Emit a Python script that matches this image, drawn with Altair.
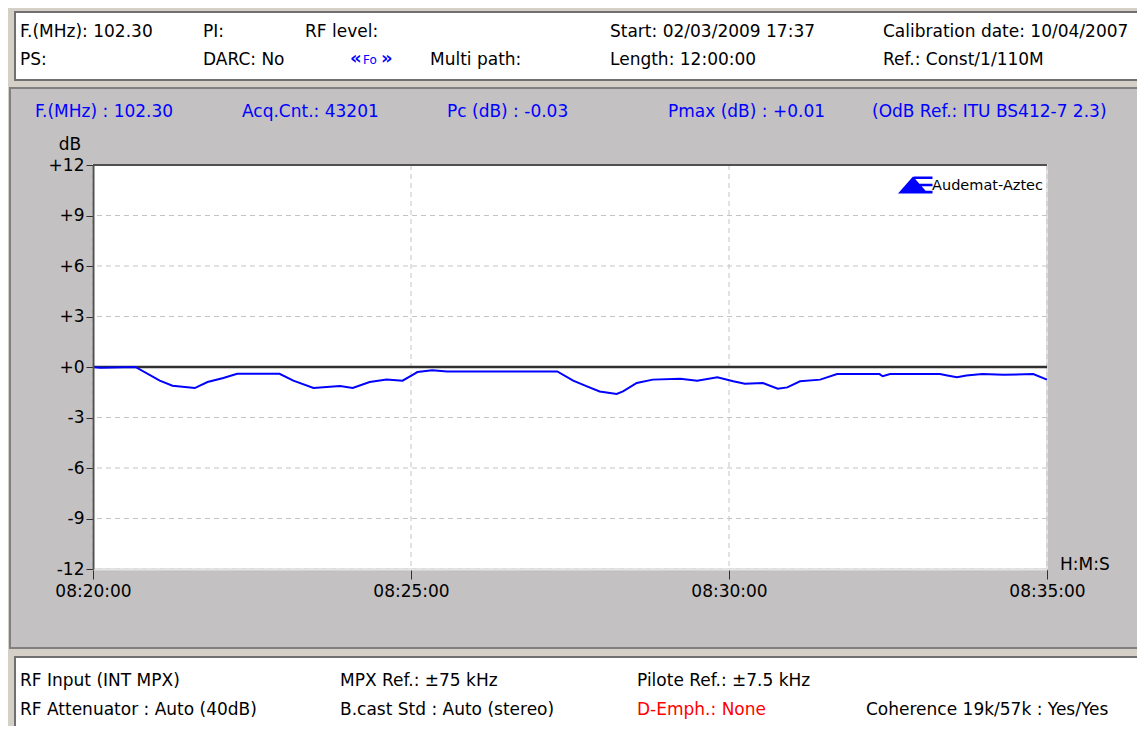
import altair as alt
import pandas as pd

# ---- data ----
times = ["08:20:00", "08:20:07", "08:20:40", "08:21:03", "08:21:15", "08:21:36", "08:21:48",
         "08:22:03", "08:22:16", "08:22:56", "08:23:09", "08:23:28", "08:23:53", "08:24:05",
         "08:24:21", "08:24:37", "08:24:52", "08:25:02", "08:25:06", "08:25:20", "08:25:34",
         "08:27:18", "08:27:33", "08:27:46", "08:27:58", "08:28:14", "08:28:20", "08:28:33",
         "08:28:48", "08:29:14", "08:29:30", "08:29:49", "08:30:04", "08:30:15", "08:30:32",
         "08:30:46", "08:30:55", "08:31:07", "08:31:26", "08:31:42", "08:32:22", "08:32:25",
         "08:32:32", "08:33:19", "08:33:26", "08:33:35", "08:33:44", "08:33:59", "08:34:19",
         "08:34:47", "08:35:00"]
db_values = [0.0, -0.05, 0.0, -0.81, -1.11, -1.25, -0.89,
             -0.65, -0.40, -0.40, -0.81, -1.25, -1.13, -1.25,
             -0.89, -0.75, -0.81, -0.45, -0.30, -0.20, -0.26,
             -0.26, -0.81, -1.15, -1.45, -1.60, -1.45, -0.95,
             -0.75, -0.70, -0.81, -0.61, -0.85, -0.99, -0.95,
             -1.29, -1.21, -0.85, -0.75, -0.42, -0.42, -0.55,
             -0.42, -0.42, -0.50, -0.61, -0.50, -0.42, -0.46,
             -0.42, -0.75]
date_prefix = "2009-03-02T"
y_ticks = [-12, -9, -6, -3, 0, 3, 6, 9, 12]
x_ticks = ["08:20:00", "08:25:00", "08:30:00", "08:35:00"]

header_row1 = ["F.(MHz): 102.30", "PI:", "RF level:", "Start: 02/03/2009 17:37", "Calibration date: 10/04/2007"]
header_row2 = ["PS:", "DARC: No", "Multi path:", "Length: 12:00:00", "Ref.: Const/1/110M"]
info_row = ["F.(MHz) : 102.30", "Acq.Cnt.: 43201", "Pc (dB) : -0.03", "Pmax (dB) : +0.01", "(OdB Ref.: ITU BS412-7 2.3)"]
footer_row1 = ["RF Input (INT MPX)", "MPX Ref.: ±75 kHz", "Pilote Ref.: ±7.5 kHz"]
footer_row2 = ["RF Attenuator : Auto (40dB)", "B.cast Std : Auto (stereo)", "D-Emph.: None", "Coherence 19k/57k : Yes/Yes"]

df = pd.DataFrame({"time": [date_prefix + t for t in times], "db": db_values})
df_y = pd.DataFrame({"db": [v for v in y_ticks if v != 0]})
df_x = pd.DataFrame({"time": [date_prefix + t for t in x_ticks]})

FONT = "DejaVu Sans"
FS = 17
W, H = 954, 404

x_dom = [alt.DateTime(year=2009, month=3, date=2, hours=8, minutes=20),
         alt.DateTime(year=2009, month=3, date=2, hours=8, minutes=35)]
x_vals = [alt.DateTime(year=2009, month=3, date=2, hours=8, minutes=m) for m in (20, 25, 30, 35)]
xs = alt.Scale(domain=x_dom)
ys = alt.Scale(domain=[-12, 12], nice=False, zero=False)

x_axis = alt.Axis(values=x_vals, format="%H:%M:%S", grid=False, tickSize=10, labelPadding=4,
                  domainColor="#e4e4e4", domainWidth=2, tickColor="#303030", zindex=1,
                  labelFont=FONT, labelFontSize=FS, labelColor="black", labelFlush=False,
                  labelOverlap=False, title=None)
y_axis = alt.Axis(values=y_ticks, grid=False, tickSize=7, labelPadding=2,
                  domainColor="#505050", domainWidth=2, tickColor="#303030", zindex=1,
                  labelFont=FONT, labelFontSize=FS, labelColor="black", title=None,
                  labelExpr="datum.value > 0 ? '+' + datum.value : (datum.value == 0 ? '+0' : '-' + abs(datum.value))")
X = alt.X("time:T", scale=xs, axis=x_axis)
Y = alt.Y("db:Q", scale=ys, axis=y_axis)

one = alt.Data(values=[{}])


def box(x1, x2, y1, y2, fill, stroke, sw=2):
    return alt.Chart(one).mark_rect(fill=fill, stroke=stroke, strokeWidth=sw).encode(
        x=alt.value(x1), x2=alt.value(x2), y=alt.value(y1), y2=alt.value(y2))


def txt(s, x, y, color="black", size=FS, align="left", weight="normal"):
    return alt.Chart(one).mark_text(text=s, align=align, baseline="middle", font=FONT,
                                    fontSize=size, color=color, fontWeight=weight).encode(
        x=alt.value(x), y=alt.value(y))


layers = []
# panels
layers.append(box(-83, 1060, -77, 483, "#c3c1c1", "#808080"))
layers.append(box(-78, 1060, -153, -85, "#ffffff", "#707070"))
layers.append(box(-78, 1060, 492, 563, "#ffffff", "#707070"))
layers.append(box(0, W, 0, H, "#ffffff", "#e4e4e4", 2))

# grid
layers.append(alt.Chart(df_y).mark_rule(color="#c4c4c4", strokeDash=[5, 4], strokeWidth=1).encode(y=Y))
layers.append(alt.Chart(df_x).mark_rule(color="#c4c4c4", strokeDash=[5, 4], strokeWidth=1).encode(x=X))
# zero reference
layers.append(alt.Chart(pd.DataFrame({"db": [0]})).mark_rule(color="#303030", strokeWidth=2.5).encode(y=Y))

# data line
layers.append(alt.Chart(df).mark_line(color="#0000ff", strokeWidth=2).encode(x=X, y=Y))

# plot top border
layers.append(alt.Chart(one).mark_rule(color="#505050", strokeWidth=2).encode(
    x=alt.value(0), x2=alt.value(W), y=alt.value(0)))

# logo
logo_path = ("M-1,0.56L0,-0.56L1,0.56Z M0.05,-0.56H1.3V-0.4H0.05Z "
             "M0.45,-0.09H1.3V0.09H0.45Z M0.85,0.38H1.3V0.56H0.85Z")
layers.append(alt.Chart(one).mark_point(shape=logo_path, filled=True, color="#0000ff",
                                        size=900, opacity=1).encode(x=alt.value(820), y=alt.value(20)))
layers.append(txt("Audemat-Aztec", 950, 21, size=14.5, align="right"))

# header texts
hx1 = [-73, 110, 212, 517, 790]
for s, x in zip(header_row1, hx1):
    layers.append(txt(s, x, -133))
hx2 = [-73, 110, 337, 517, 790]
for s, x in zip(header_row2, hx2):
    layers.append(txt(s, x, -105))
layers.append(txt("«", 257, -106, color="#0000ff", size=18, weight="bold"))
layers.append(txt("Fo", 270, -105, color="#0000ff", size=12))
layers.append(txt("»", 288, -106, color="#0000ff", size=18, weight="bold"))

# blue info row
ix = [-58, 149, 354, 575, 779]
for s, x in zip(info_row, ix):
    layers.append(txt(s, x, -53, color="#0000ff"))

layers.append(txt("dB", -23, -20, align="center"))
layers.append(txt("H:M:S", 967, 400))

# footer
fx1 = [-73, 247, 544]
for s, x in zip(footer_row1, fx1):
    layers.append(txt(s, x, 516))
fx2 = [-73, 247, 544, 773]
fc2 = ["black", "black", "#ff0000", "black"]
for s, x, c in zip(footer_row2, fx2, fc2):
    layers.append(txt(s, x, 545, color=c))

chart = alt.layer(*layers).properties(
    width=W, height=H,
    autosize=alt.AutoSizeParams(type="none"),
    padding={"left": 85, "top": 157, "right": 90, "bottom": 157},
    background="#d4d0c8",
).configure_view(stroke=None, fill=None)

chart.save("out.html", embed_options={"renderer": "svg", "actions": False})
